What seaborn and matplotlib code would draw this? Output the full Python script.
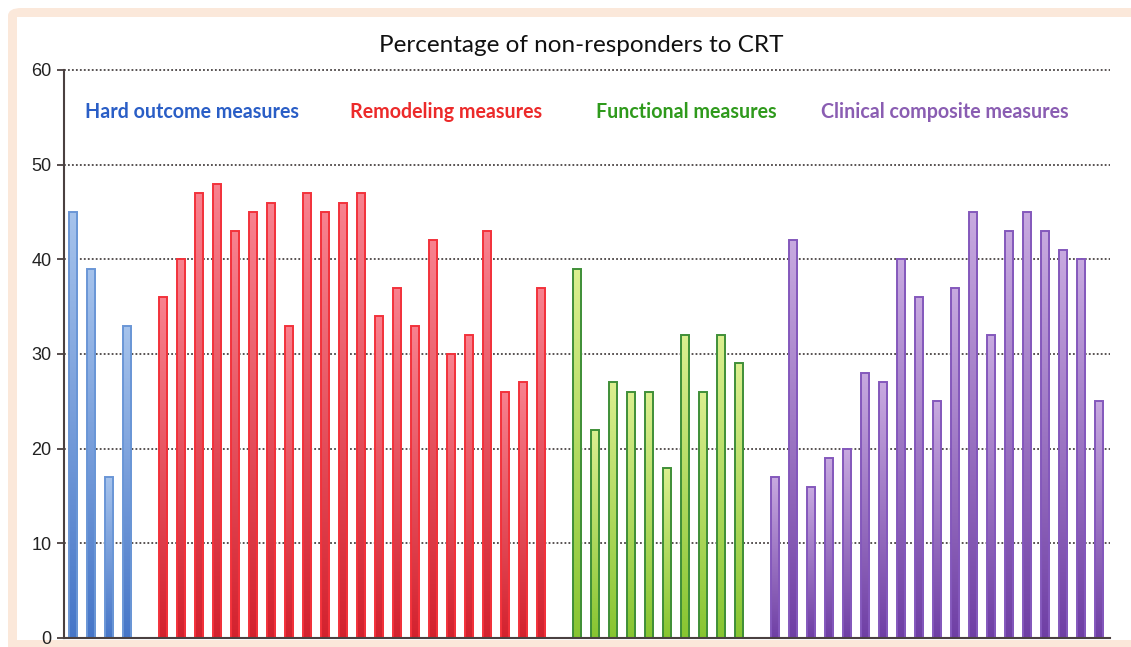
import numpy as np
import pandas as pd
import matplotlib
matplotlib.use("Agg")
import matplotlib.pyplot as plt
import seaborn as sns
from matplotlib.colors import LinearSegmentedColormap
from matplotlib.patches import FancyBboxPatch

# ---------------- data ----------------
group_names = ["Hard outcome measures", "Remodeling measures",
               "Functional measures", "Clinical composite measures"]
hard_outcome = [45, 39, 17, 33]
remodeling = [36, 40, 47, 48, 43, 45, 46, 33, 47, 45, 46, 47, 34, 37, 33, 42,
              30, 32, 43, 26, 27, 37]
functional = [39, 22, 27, 26, 26, 18, 32, 26, 32, 29]
clinical = [17, 42, 16, 19, 20, 28, 27, 40, 36, 25, 37, 45, 32, 43, 45, 43,
            41, 40, 25]
yticks = [0, 10, 20, 30, 40, 50, 60]
title = "Percentage of non-responders to CRT"

# ---------------- styles ----------------
top_colors = ["#a6c3ec", "#f8828f", "#dcef90", "#c8aae0"]
bottom_colors = ["#4676c8", "#d3222e", "#87c531", "#6f3fa5"]
edge_colors = ["#6a96d6", "#f2323b", "#3f8f38", "#8458bc"]
label_colors = ["#2a5ec6", "#ec2a2a", "#2f9a1c", "#8a5db2"]
label_x = [6.6, 20.7, 34.05, 48.4]

series = [hard_outcome, remodeling, functional, clinical]
rows = []
pos = 0
for gi, vals in enumerate(series):
    for v in vals:
        rows.append({"pos": pos, "value": v, "group": group_names[gi]})
        pos += 1
    pos += 1  # one empty slot between groups
df = pd.DataFrame(rows)

W, H = 1131, 647
fig = plt.figure(figsize=(W / 100, H / 100), dpi=100)
fig.patch.set_facecolor("white")

# frame
fig.patches.append(FancyBboxPatch((8 / W, -0.1), 2.0, 1 - 8 / H + 0.1,
                                  boxstyle="round,pad=0,rounding_size=0.012",
                                  transform=fig.transFigure, facecolor="#fbe8da",
                                  edgecolor="none", zorder=-3))
fig.patches.append(FancyBboxPatch((17 / W, 1 - 640 / H), 2.0, (640 - 17) / H,
                                  boxstyle="square,pad=0",
                                  transform=fig.transFigure, facecolor="white",
                                  edgecolor="none", zorder=-2))

ax = fig.add_axes([64 / W, 1 - 638 / H, (1110 - 64) / W, (638 - 70) / H])
ax.set_facecolor("none")
ax.set_zorder(1)

pal = dict(zip(group_names, bottom_colors))
sns.barplot(data=df, x="pos", y="value", hue="group", palette=pal,
            native_scale=True, width=0.46, dodge=False, legend=False, ax=ax,
            errorbar=None)

# gradient fill for each bar
grad = np.linspace(0, 1, 256).reshape(-1, 1)
group_of_pos = dict(zip(df["pos"], df["group"]))
for p in list(ax.patches):
    xc = p.get_x() + p.get_width() / 2
    g = group_of_pos[int(round(xc))]
    gi = group_names.index(g)
    cmap = LinearSegmentedColormap.from_list("g", [bottom_colors[gi], top_colors[gi]])
    x0, y0 = p.get_x(), p.get_y()
    w, h = p.get_width(), p.get_height()
    im = ax.imshow(grad, extent=[x0, x0 + w, y0, y0 + h], origin="lower",
                   aspect="auto", cmap=cmap, zorder=2, interpolation="bilinear")
    im.set_clip_path(p)
    p.set_facecolor("none")
    p.set_edgecolor(edge_colors[gi])
    p.set_linewidth(1.4)
    p.set_zorder(3)

ax.set_xlim(-0.5, 57.6)
ax.set_ylim(0, 60)

# grid
for yv in yticks[1:]:
    ax.axhline(yv, color="#4a4444", linewidth=1.3, linestyle=(0, (1, 1.2)),
               zorder=1, clip_on=False)

for s in ["top", "right"]:
    ax.spines[s].set_visible(False)
for s in ["left", "bottom"]:
    ax.spines[s].set_color("#4a4040")
    ax.spines[s].set_linewidth(1.5)
    ax.spines[s].set_zorder(4)

ax.set_yticks(yticks)
ax.set_yticklabels([str(t) for t in yticks], fontsize=13,
                   family="Liberation Sans", color="#222222")
ax.tick_params(axis="y", length=5, width=1.3, color="#4a4040", pad=4)
ax.tick_params(axis="x", bottom=False, labelbottom=False)
ax.set_xlabel("")
ax.set_ylabel("")

for name, lx, col in zip(group_names, label_x, label_colors):
    ax.text(lx, 55.6, name, ha="center", va="center", color=col,
            fontsize=14.1, fontweight="bold", family="Lato")

fig.text(581 / W, 1 - 45 / H, title, ha="center", va="center",
         fontsize=17.5, family="Lato", color="#111111")

fig.savefig("out.png", dpi=100, facecolor=fig.get_facecolor())
